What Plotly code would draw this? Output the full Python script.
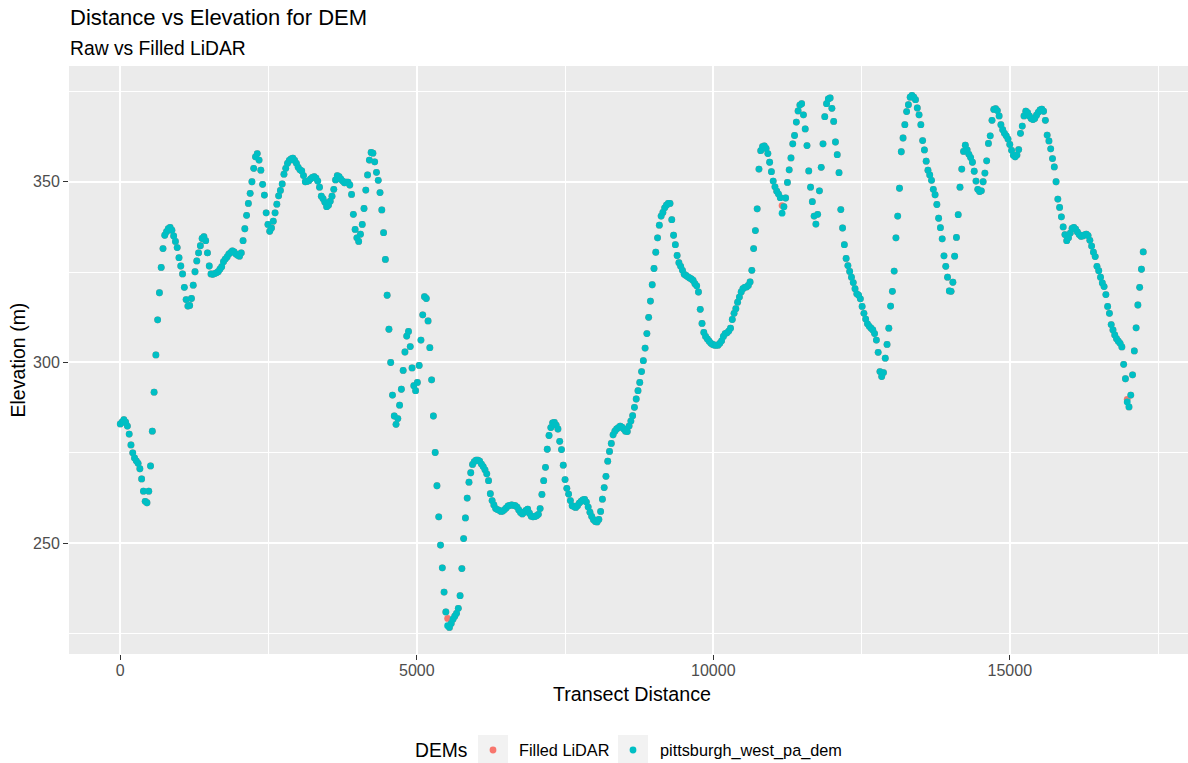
import plotly.graph_objects as go

# Transect sampled at a fixed interval along the profile line (metres)
SAMPLE_SPACING_M = 30

# Elevation (m) of the pittsburgh_west_pa_dem surface along the transect,
# one value per sample, starting at distance 0
dem_elevation = [
    283.0, 283.5, 284.2, 283.5, 282.4, 280.2, 277.2, 275.0, 273.6, 272.8,
    272.1, 270.6, 267.8, 264.4, 261.6, 261.2, 264.4, 271.4, 281.0, 291.8,
    302.1, 311.8, 319.3, 326.3, 331.5, 335.2, 336.2, 337.0, 337.4, 336.6,
    335.0, 333.5, 331.8, 329.0, 326.7, 324.5, 320.8, 317.4, 315.6, 315.8,
    317.7, 321.4, 325.1, 328.1, 330.3, 332.3, 334.3, 334.8, 333.7, 330.3,
    326.7, 324.5, 324.4, 324.6, 324.8, 325.1, 325.8, 326.5, 327.9, 328.6,
    329.2, 330.0, 330.4, 330.9, 330.6, 330.0, 329.7, 329.4, 330.3, 333.7,
    337.0, 340.7, 344.0, 346.8, 350.0, 353.7, 356.9, 357.8, 356.0, 353.2,
    349.3, 346.3, 341.4, 338.2, 336.3, 337.2, 339.1, 341.4, 343.8, 346.1,
    347.6, 349.4, 352.1, 353.7, 355.1, 355.9, 356.3, 356.5, 355.9, 355.1,
    354.0, 353.3, 353.0, 351.7, 350.0, 350.1, 350.3, 350.8, 351.2, 351.4,
    351.0, 350.2, 348.5, 346.0, 345.3, 344.3, 343.1, 343.5, 344.6, 346.0,
    347.9, 350.5, 351.7, 351.4, 350.7, 350.2, 349.7, 349.9, 349.9, 349.1,
    346.5, 341.0, 336.8, 334.5, 333.5, 335.5, 338.2, 342.6, 347.7, 351.9,
    356.0, 358.1, 357.9, 355.5, 352.6, 350.4, 347.0, 342.2, 335.9, 328.5,
    318.6, 309.2, 300.0, 291.0, 285.2, 282.9, 284.5, 288.2, 292.6, 297.8,
    302.9, 307.3, 308.6, 304.4, 298.5, 293.6, 292.2, 294.5, 299.2, 306.2,
    313.2, 318.2, 317.7, 311.5, 304.1, 295.2, 285.2, 275.1, 265.9, 257.3,
    249.5, 243.2, 236.5, 231.0, 227.2, 226.7, 227.8, 229.0, 229.8, 230.6,
    232.0, 235.5, 243.0, 251.3, 257.0, 262.5, 266.9, 269.5, 271.8, 272.6,
    273.0, 273.0, 272.7, 271.9, 271.2, 270.3, 269.2, 267.3, 263.7, 261.8,
    260.6, 259.6, 259.3, 259.1, 258.8, 258.9, 259.3, 259.8, 260.3, 260.5,
    260.6, 260.5, 260.4, 260.0, 259.2, 258.5, 258.1, 258.6, 259.1, 259.4,
    258.3, 257.5, 257.3, 257.4, 257.6, 258.0, 259.6, 263.5, 267.3, 271.0,
    276.0, 279.8, 282.0, 283.3, 283.4, 282.7, 281.6, 278.2, 275.9, 271.6,
    267.6, 265.2, 263.6, 261.8, 260.4, 260.1, 259.9, 260.4, 261.1, 261.6,
    262.0, 262.1, 261.4, 260.0, 258.6, 257.4, 256.5, 256.0, 255.9, 256.6,
    258.8, 262.2, 265.4, 268.5, 272.7, 275.4, 277.6, 280.0, 281.0, 281.6,
    282.0, 282.4, 282.1, 281.6, 281.0, 280.9, 282.4, 283.8, 285.3, 287.6,
    289.9, 292.2, 294.5, 297.5, 300.5, 304.0, 308.0, 312.5, 317.0, 321.5,
    326.0, 330.5, 334.5, 338.0, 340.5, 341.5, 342.8, 343.5, 344.0, 344.0,
    339.5, 335.2, 332.6, 329.6, 327.6, 326.6, 325.5, 324.4, 324.1, 323.7,
    323.4, 323.1, 322.7, 321.8, 321.2, 319.5, 314.7, 310.8, 308.3, 307.2,
    306.5, 305.9, 305.3, 305.0, 304.8, 304.8, 304.8, 305.3, 306.0, 307.2,
    308.0, 308.2, 308.7, 309.5, 311.9, 313.6, 314.9, 316.7, 318.1, 319.5,
    320.4, 320.8, 320.9, 321.3, 322.3, 325.5, 331.5, 336.5, 342.5, 353.5,
    358.6, 359.7, 359.9, 359.2, 357.8, 355.4, 352.8, 350.2, 348.6, 347.4,
    346.6, 345.6, 341.3, 343.1, 345.5, 349.8, 353.3, 356.6, 360.5, 362.8,
    366.5, 369.6, 371.2, 371.6, 368.5, 364.6, 360.0, 353.0, 348.5, 344.5,
    340.5, 338.3, 341.0, 347.5, 354.0, 360.5, 368.0, 371.6, 372.9, 373.2,
    370.3, 366.7, 361.0, 357.5, 352.5, 342.3, 337.2, 332.6, 328.8, 326.8,
    325.2, 323.6, 322.1, 320.4, 319.0, 318.6, 317.6, 315.5, 313.6, 312.0,
    310.7, 310.0, 309.5, 309.0, 308.0, 306.2, 302.8, 297.5, 296.1, 297.2,
    301.2, 305.0, 309.5, 315.6, 319.7, 325.3, 334.5, 340.5, 348.2, 358.3,
    362.1, 365.8, 369.4, 371.3, 373.4, 373.9, 373.4, 372.7, 370.4, 368.5,
    365.8, 361.4, 358.8, 355.7, 353.2, 351.9, 350.4, 347.9, 346.4, 343.7,
    339.9, 337.3, 334.2, 329.5, 326.6, 323.6, 319.8, 319.7, 322.2, 329.4,
    334.6, 340.9, 348.5, 353.5, 358.4, 360.1, 358.8, 357.6, 356.7, 355.4,
    352.9, 350.2, 347.9, 347.3, 347.5, 350.0, 352.4, 355.8, 360.6, 362.7,
    367.0, 370.0, 370.2, 369.7, 368.2, 365.8, 364.4, 363.4, 362.7, 361.8,
    360.3, 358.7, 357.3, 356.9, 357.4, 358.9, 363.4, 365.4, 368.2, 369.5,
    369.1, 368.2, 367.5, 367.2, 367.5, 368.4, 369.2, 369.9, 370.1, 369.5,
    367.0, 362.9, 361.3, 359.1, 356.4, 354.1, 350.0, 345.2, 342.9, 340.3,
    337.5, 335.4, 333.7, 334.5, 335.8, 337.1, 337.4, 336.9, 336.1, 335.4,
    334.9, 335.0, 335.3, 335.5, 335.1, 333.8, 332.2, 330.5, 329.3, 326.6,
    325.4, 323.6, 322.0, 321.0, 318.8, 315.5, 313.6, 310.5, 309.0, 307.6,
    306.6, 305.9, 305.3, 304.3, 299.5, 295.5, 289.1, 287.7, 291.0, 296.6,
    303.2, 309.6, 315.9, 320.8, 325.8, 330.6,
]

# Samples where the filled LiDAR surface sits above the raw DEM (filled sinks)
fill_distance = [5520, 11160, 16980]
fill_elevation = [229.2, 343.4, 289.8]

series_names = ["Filled LiDAR", "pittsburgh_west_pa_dem"]
series_colors = ["#F8766D", "#00BFC4"]

x_tick_values = [0, 5000, 10000, 15000]
x_tick_labels = ["0", "5000", "10000", "15000"]
x_minor_values = [2500, 7500, 12500, 17500]
y_tick_values = [250, 300, 350]
y_tick_labels = ["250", "300", "350"]
y_minor_values = [225, 275, 325, 375]

distance = [i * SAMPLE_SPACING_M for i in range(len(dem_elevation))]
filled_elevation = list(dem_elevation)
for d, z in zip(fill_distance, fill_elevation):
    filled_elevation[d // SAMPLE_SPACING_M] = z

# ---- figure geometry (pixels) ----
W, H = 1188, 763
ML, MR, MT, MB = 69, 0, 66, 109
PW, PH = W - ML - MR, H - MT - MB


def px(x):
    return (x - ML) / PW


def py(y):
    return (H - MB - y) / PH


FONT = "Liberation Sans, Arial, Helvetica, sans-serif"
DOT = 6.8

fig = go.Figure()
for name, color, elev in zip(series_names, series_colors,
                             [filled_elevation, dem_elevation]):
    fig.add_trace(go.Scatter(
        x=distance, y=elev, mode="markers", name=name,
        marker=dict(color=color, size=DOT, line=dict(width=0)),
        hoverinfo="x+y+name",
    ))

axis_common = dict(
    showgrid=True, gridcolor="white", gridwidth=2.2,
    zeroline=False, showline=False,
    ticks="outside", ticklen=5, tickwidth=1.3, tickcolor="#333333",
    tickfont=dict(family=FONT, size=16, color="#4D4D4D"),
)

fig.update_xaxes(
    range=[-865, 18005], tickmode="array",
    tickvals=x_tick_values, ticktext=x_tick_labels,
    ticklabelstandoff=-3,
    minor=dict(tickmode="array", tickvals=x_minor_values, showgrid=True,
               gridcolor="white", gridwidth=1.2, ticks=""),
    **axis_common,
)
fig.update_yaxes(
    range=[219.36, 382.02], tickmode="array",
    tickvals=y_tick_values, ticktext=y_tick_labels,
    minor=dict(tickmode="array", tickvals=y_minor_values, showgrid=True,
               gridcolor="white", gridwidth=1.2, ticks=""),
    **axis_common,
)


def label(text, x, y, size, **kw):
    return dict(text=text, x=px(x), y=py(y), xref="paper", yref="paper",
                showarrow=False, yanchor="middle",
                font=dict(family=FONT, size=size, color="black"), **kw)


annotations = [
    label("Distance vs Elevation for DEM", 68, 17, 22, xanchor="left"),
    label("Raw vs Filled LiDAR", 68, 48, 19.3, xanchor="left"),
    label("Transect Distance", 632, 694, 19.7, xanchor="center"),
    label("Elevation (m)", 17.5, 360, 19.5, xanchor="center", textangle=-90),
    label("DEMs", 413, 750, 19.3, xanchor="left"),
]

shapes = []
# legend keys: grey key background with a dot of the series colour
key_boxes = [(478, 508), (618, 648)]
label_left = [517, 658]
for (x0, x1), lx, name, color in zip(key_boxes, label_left,
                                     series_names, series_colors):
    shapes.append(dict(type="rect", xref="paper", yref="paper",
                       x0=px(x0), x1=px(x1), y0=py(765), y1=py(735),
                       fillcolor="#F2F2F2", line=dict(width=0)))
    cx = px((x0 + x1) / 2)
    shapes.append(dict(type="circle", xref="paper", yref="paper",
                       xsizemode="pixel", ysizemode="pixel",
                       xanchor=cx, yanchor=py(750),
                       x0=-DOT / 2, x1=DOT / 2, y0=-DOT / 2, y1=DOT / 2,
                       fillcolor=color, line=dict(width=0)))
    annotations.append(label(name, lx, 750, 16.3, xanchor="left"))

fig.update_layout(
    width=W, height=H,
    margin=dict(l=ML, r=MR, t=MT, b=MB, pad=0),
    paper_bgcolor="white", plot_bgcolor="#EBEBEB",
    showlegend=False,
    font=dict(family=FONT),
    annotations=annotations,
    shapes=shapes,
)

fig.write_html("out.html")
